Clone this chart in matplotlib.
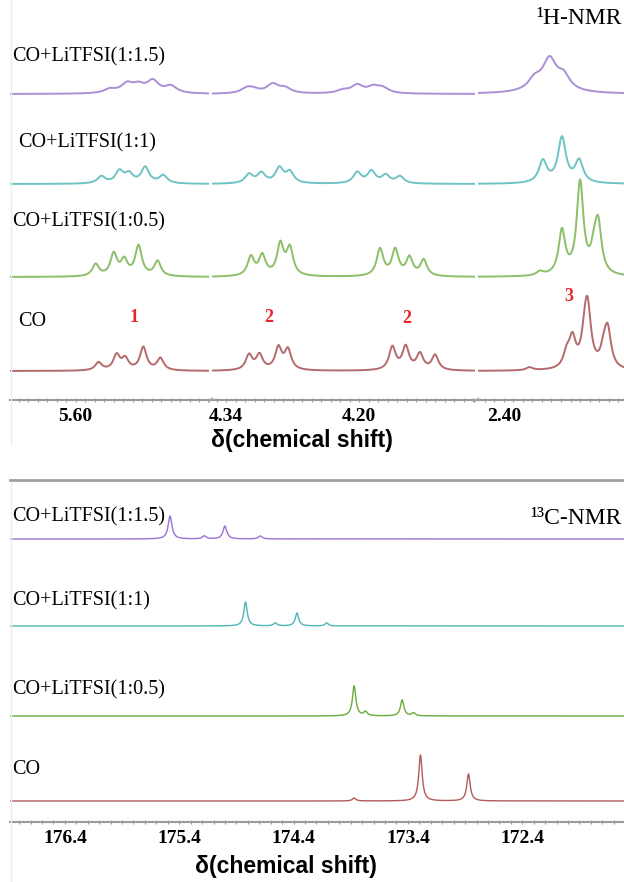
import matplotlib
matplotlib.use("Agg")
import matplotlib.pyplot as plt
import numpy as np

# sample names, bottom to top
samples = ["CO", "CO+LiTFSI(1:0.5)", "CO+LiTFSI(1:1)", "CO+LiTFSI(1:1.5)"]

# 1H peaks: position (ppm) and height (a.u.)
h1_pos_co = [5.576, 5.557, 5.548, 5.529, 5.511,
             4.316, 4.305, 4.285, 4.275, 4.165, 4.151, 4.136, 4.120,
             2.373, 2.334, 2.328, 2.315, 2.312, 2.295, 2.291]
h1_amp_co = [8, 15, 11, 23, 12,
             15, 15, 22, 20, 23, 23, 16, 15,
             3, 14, 28, 26, 52, 16, 36]
h1_pos_05 = [5.579, 5.560, 5.549, 5.534, 5.514,
             4.314, 4.302, 4.283, 4.273, 4.178, 4.162, 4.147, 4.132,
             2.362, 2.339, 2.320, 2.305, 2.301]
h1_amp_05 = [12, 22, 15, 30, 15,
             19, 20, 31, 27, 27, 26, 18, 16,
             4, 44, 92, 20, 46]
h1_pos_11 = [5.573, 5.554, 5.544, 5.527, 5.508,
             4.316, 4.303, 4.284, 4.273, 4.202, 4.187, 4.172, 4.157,
             2.359, 2.339, 2.321]
h1_amp_11 = [7, 12, 9, 16, 8,
             9, 10, 15, 11, 11, 12, 8, 7,
             22, 45, 22]
h1_pos_15 = [5.564, 5.546, 5.534, 5.519, 5.500,
             4.318, 4.311, 4.291, 4.278, 4.217, 4.202, 4.185, 4.175,
             2.368, 2.352, 2.337]
h1_amp_15 = [4, 9, 7, 12, 7,
             5, 3, 9, 5, 3, 8, 6, 5,
             9, 20, 12]
h1_width = [0.0042, 0.0042, 0.005, 0.0075]
# broad hump under the 2.35 ppm multiplet of CO+LiTFSI(1:1.5)
h1_broad_pos_15 = [2.352]
h1_broad_amp_15 = [14]

# 13C carbonyl peaks
c13_pos_co = [173.87, 173.29, 172.87]
c13_amp_co = [3, 46, 27]
c13_pos_05 = [173.87, 173.77, 173.45, 173.35]
c13_amp_05 = [30, 4, 16, 3]
c13_pos_11 = [174.82, 174.56, 174.37, 174.11]
c13_amp_11 = [24, 3, 13, 3]
c13_pos_15 = [175.48, 175.18, 175.00, 174.69]
c13_amp_15 = [23, 3, 13, 3]
c13_width = [0.018, 0.018, 0.018, 0.02]

h1_peaks = [(h1_pos_co, h1_amp_co), (h1_pos_05, h1_amp_05),
            (h1_pos_11, h1_amp_11), (h1_pos_15, h1_amp_15)]
c13_peaks = [(c13_pos_co, c13_amp_co), (c13_pos_05, c13_amp_05),
             (c13_pos_11, c13_amp_11), (c13_pos_15, c13_amp_15)]

h1_colors = ["#b56b6b", "#8cbf69", "#6fc3c3", "#aa8fd6"]
c13_colors = ["#b35a5a", "#6aaa3c", "#4fb5b8", "#9a72d2"]

segments = [(5.669, 5.460), (4.355, 4.078), (2.427, 2.274)]
seg_major = [[5.60], [4.34, 4.20], [2.40]]
c13_range = (176.88, 171.51)
c13_major = [176.4, 175.4, 174.4, 173.4, 172.4]

W, H = 624, 882


def spectrum(x, pos, amp, w):
    y = np.zeros_like(x)
    for p, a in zip(pos, amp):
        y += a * w * w / ((x - p) ** 2 + w * w)
    return y


def fx(px):
    return px / W


def fy(py):
    return 1 - py / H


fig = plt.figure(figsize=(W / 100, H / 100), dpi=100)
serif = ["Liberation Serif", "DejaVu Serif"]
sans = ["Liberation Sans", "DejaVu Sans"]
axis_grey = "#9a9a9a"

# ---- 1H panel, broken into three pieces
h1_offsets = [29, 123, 216, 306]
seg_px = [(10, 209), (212, 475), (478, 624)]
for k, (lo, hi) in enumerate(seg_px):
    ax = fig.add_axes([fx(lo), fy(400), fx(hi - lo), (400 - 10) / H])
    x = np.linspace(segments[k][1], segments[k][0], 1500)
    for i, (pos, amp) in enumerate(h1_peaks):
        y = h1_offsets[i] + spectrum(x, pos, amp, h1_width[i])
        if i == 3:
            y += spectrum(x, h1_broad_pos_15, h1_broad_amp_15, 0.016)
        ax.plot(x, y, color=h1_colors[i], lw=1.4)
    ax.set_xlim(*segments[k])
    ax.set_ylim(0, 390)
    for s in ["top", "left", "right"]:
        ax.spines[s].set_visible(False)
    ax.spines["bottom"].set_color(axis_grey)
    ax.spines["bottom"].set_linewidth(1.5)
    ax.set_yticks([])
    ax.set_xticks(seg_major[k])
    ax.set_xticklabels([f"{v:.2f}" for v in seg_major[k]], fontfamily=serif,
                       fontweight="bold", fontsize=14)
    ax.xaxis.set_minor_locator(plt.MultipleLocator(0.01))
    ax.tick_params(axis="x", which="both", direction="inout", length=3,
                   color=axis_grey, width=0.8, pad=4)
    ax.patch.set_alpha(0)

# break marks
for bx in [210.5, 476.5]:
    fig.add_artist(plt.Line2D([fx(bx - 2), fx(bx + 2)], [fy(402), fy(398)],
                              color=axis_grey, lw=0.8))

peak_numbers = ["1", "2", "2", "3"]
num_px = [(134, 318), (269, 318), (407, 319), (569, 296)]
for t, (px, py) in zip(peak_numbers, num_px):
    fig.text(fx(px), fy(py), t, color="#e8242c", fontfamily=serif,
             fontweight="bold", fontsize=13, ha="center", va="center")

h1_label_px = [(18, 322), (12, 222), (18, 143), (12, 57)]
for name, (px, py) in zip(samples, h1_label_px):
    fig.text(fx(px), fy(py), name, fontfamily=serif, fontsize=14.5,
             ha="left", va="center")
fig.text(fx(622), fy(18), "\u00b9H-NMR", fontfamily=serif, fontsize=17,
         ha="right", va="center")
fig.text(fx(302), fy(441), "\u03b4(chemical shift)", fontfamily=sans,
         fontweight="bold", fontsize=16.5, ha="center", va="center")

# separator
fig.add_artist(plt.Line2D([fx(10), fx(624)], [fy(480), fy(480)], color="#a0a0a0", lw=2))
fig.add_artist(plt.Line2D([fx(11), fx(11)], [fy(0), fy(445)], color="#ececec", lw=1))
fig.add_artist(plt.Line2D([fx(11), fx(11)], [fy(482), fy(882)], color="#ececec", lw=1))

# ---- 13C panel
c13_offsets = [21, 106, 196, 283]
ax = fig.add_axes([fx(10), fy(822), fx(614), (822 - 490) / H])
x = np.linspace(c13_range[1], c13_range[0], 6000)
for i, (pos, amp) in enumerate(c13_peaks):
    y = c13_offsets[i] + spectrum(x, pos, amp, c13_width[i])
    ax.plot(x, y, color=c13_colors[i], lw=1.0)
ax.set_xlim(*c13_range)
ax.set_ylim(0, 332)
for s in ["top", "left", "right"]:
    ax.spines[s].set_visible(False)
ax.spines["bottom"].set_color(axis_grey)
ax.spines["bottom"].set_linewidth(1.5)
ax.set_yticks([])
ax.set_xticks(c13_major)
ax.set_xticklabels([f"{v:.1f}" for v in c13_major], fontfamily=serif,
                   fontweight="bold", fontsize=14)
ax.xaxis.set_minor_locator(plt.MultipleLocator(0.1))
ax.tick_params(axis="x", which="both", direction="inout", length=3,
               color=axis_grey, width=0.8, pad=4)
ax.patch.set_alpha(0)

c13_label_px = [(12, 770), (12, 690), (12, 601), (12, 517)]
for name, (px, py) in zip(samples, c13_label_px):
    fig.text(fx(px), fy(py), name, fontfamily=serif, fontsize=14.5,
             ha="left", va="center")
fig.text(fx(622), fy(518), "\u00b9\u00b3C-NMR", fontfamily=serif, fontsize=17,
         ha="right", va="center")
fig.text(fx(286), fy(866), "\u03b4(chemical shift)", fontfamily=sans,
         fontweight="bold", fontsize=16.5, ha="center", va="center")

fig.savefig("out.png", dpi=100)
